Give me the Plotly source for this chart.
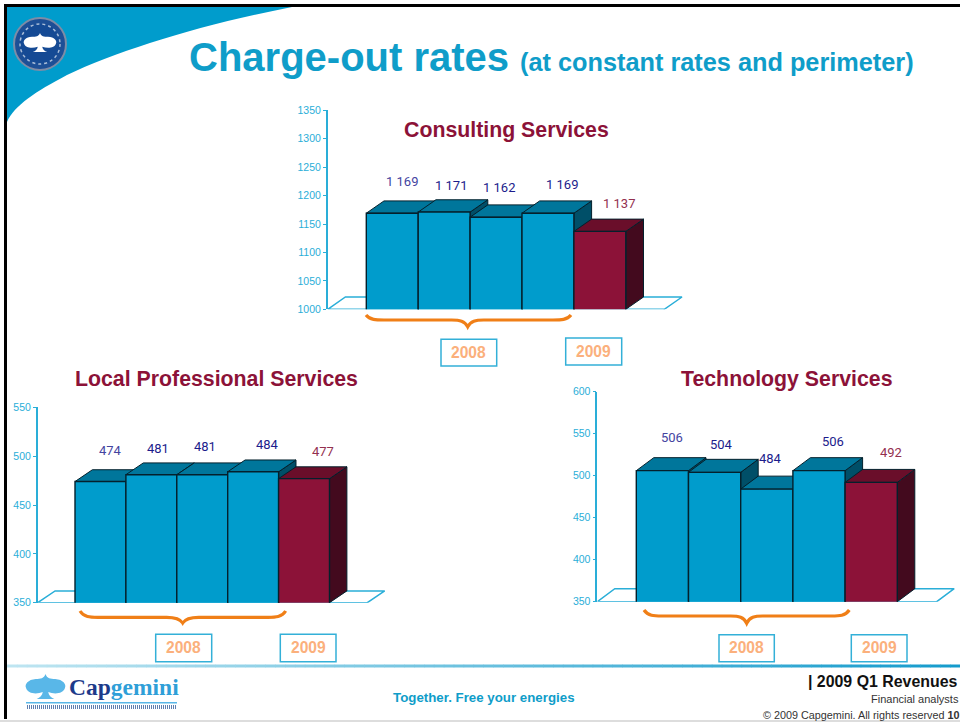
import plotly.graph_objects as go

W, H = 960, 722

# ---- data ----
quarters = ["Q1 2008", "Q2 2008", "Q3 2008", "Q4 2008", "Q1 2009"]
consulting_values = [1169, 1171, 1162, 1169, 1137]
local_values = [474, 481, 481, 484, 477]
technology_values = [506, 504, 484, 506, 492]
consulting_labels = ["1 169", "1 171", "1 162", "1 169", "1 137"]
local_labels = ["474", "481", "481", "484", "477"]
technology_labels = ["506", "504", "484", "506", "492"]
consulting_ticks = [1000, 1050, 1100, 1150, 1200, 1250, 1300, 1350]
local_ticks = [350, 400, 450, 500, 550]
technology_ticks = [350, 400, 450, 500, 550, 600]
chart_titles = ["Consulting Services", "Local Professional Services", "Technology Services"]

# ---- styles ----
BLUE_FRONT, BLUE_TOP, BLUE_SIDE = "#009ccc", "#00769b", "#004f68"
RED_FRONT, RED_TOP, RED_SIDE = "#8c1238", "#6a0e2a", "#430a1e"
EDGE = "#04202c"
AXIS = "#2aaed8"
TITLE_BLUE = "#0f9dc9"
MAROON = "#8c1238"
ORANGE = "#f07f17"
YEAR = "#fbb07c"
LABEL_COLORS = ["#44449f", "#1c1c8c", "#1c1c8c", "#1c1c8c", "#93304f"]
FONT = "Liberation Sans"
NARROW = "Roboto"


def px(x):
    return x / W


def py(y):
    return 1 - y / H


shapes, annotations, traces = [], [], []


def text(s, x, y, size, color, bold=False, anchor="center", family=FONT):
    annotations.append(dict(
        text=f"<b>{s}</b>" if bold else s, x=px(x), y=py(y), xref="paper", yref="paper",
        xanchor=anchor, yanchor="middle", showarrow=False, borderpad=0,
        font=dict(size=size, color=color, family=family)))


def path(d, fill="rgba(0,0,0,0)", color="rgba(0,0,0,0)", width=0, layer="above", dash=None):
    shapes.append(dict(type="path", path=d, xref="paper", yref="paper", fillcolor=fill, layer=layer,
                       line=dict(color=color, width=width, dash=dash)))


def P(*pts):
    """Turn pixel pairs into 'x,y' paper strings."""
    return " ".join(f"{px(a):.5f},{py(b):.5f}" for a, b in pts)


def rect(x0, y0, x1, y1, fill="rgba(0,0,0,0)", color="rgba(0,0,0,0)", width=0, kind="rect"):
    shapes.append(dict(type=kind, xref="paper", yref="paper", x0=px(x0), x1=px(x1), y0=py(y0), y1=py(y1),
                       fillcolor=fill, line=dict(color=color, width=width)))


# ---- page furniture ----
path(f"M {P((7,7))} L {P((292,7))} C {P((200,25),(120,50),(67,75))} C {P((35,92),(15,105),(7,122))} Z",
     fill="#009ccc")
rect(4, 4, 960, 7, fill="#000000")
rect(4, 4, 7, 719, fill="#000000")
rect(0, 720, 960, 722, fill="#dddddd")

# seal
rect(14, 18, 66, 70, fill="#1d4f96", color="#7d8ca6", width=2, kind="circle")
rect(20, 24, 60, 64, fill="#154a94", color="#a9bdd8", width=1.5, kind="circle")
shapes[-1]["line"]["dash"] = "dot"


def spade(cx, top, w, h, fill):
    """Cloud-like spade outline, scaled from its centre, width and height."""
    X = lambda f: cx + f * w / 2
    Y = lambda f: top + f * h
    path(f"M {P((X(0),Y(0)))} C {P((X(.08),Y(.18)),(X(.25),Y(.2)),(X(.5),Y(.2)))} "
         f"C {P((X(.9),Y(.22)),(X(1.08),Y(.42)),(X(1),Y(.55)))} C {P((X(.92),Y(.8)),(X(.45),Y(.82)),(X(.14),Y(.72)))} "
         f"C {P((X(.16),Y(.85)),(X(.28),Y(.95)),(X(.45),Y(1)))} L {P((X(-.45),Y(1)))} "
         f"C {P((X(-.28),Y(.95)),(X(-.16),Y(.85)),(X(-.14),Y(.72)))} C {P((X(-.45),Y(.82)),(X(-.92),Y(.8)),(X(-1),Y(.55)))} "
         f"C {P((X(-1.08),Y(.42)),(X(-.9),Y(.22)),(X(-.5),Y(.2)))} C {P((X(-.25),Y(.2)),(X(-.08),Y(.18)),(X(0),Y(0)))} Z",
         fill=fill)


spade(40, 33, 32, 19, "#ffffff")

# title
text("Charge-out rates", 188, 57, 40, TITLE_BLUE, bold=True, anchor="left")
text("(at constant rates and perimeter)", 519, 62, 25.3, TITLE_BLUE, bold=True, anchor="left")

# footer rule: pale on the left, saturated on the right
for k in range(96):
    f = k / 95
    c0, c1 = (190, 229, 241), (20, 155, 204)
    col = "rgb(%d,%d,%d)" % tuple(round(a + (b - a) * f) for a, b in zip(c0, c1))
    rect(7 + k * 953 / 96, 664.5, 7 + (k + 1) * 953 / 96 + 0.5, 667.5, fill=col)

# footer logo
spade(45.5, 674, 39, 25, "#59b7e8")
annotations.append(dict(
    text='<b><span style="color:#1d3a8a">Cap</span><span style="color:#2f9fd8">gemini</span></b>',
    x=px(68), y=py(687), xref="paper", yref="paper", xanchor="left", yanchor="middle", showarrow=False,
    borderpad=0, font=dict(size=23.5, family="Liberation Serif")))
rect(26, 702, 177, 703.5, fill="#59b7e8")
shapes.append(dict(type="line", xref="paper", yref="paper", x0=px(27), x1=px(177), y0=py(707), y1=py(707),
                   line=dict(color="#5f7fb0", width=4, dash="1px,1px")))

text("Together. Free your energies", 484.5, 697, 13.3, TITLE_BLUE, bold=True)
text("| 2009 Q1 Revenues", 958, 681, 15.9, "#111111", bold=True, anchor="right")
text("Financial analysts", 960, 699, 11, "#333333", anchor="right")
text("© 2009 Capgemini. All rights reserved <b>10</b>", 960, 715, 10.8, "#333333", anchor="right")

# ---- the three charts ----
charts = [
    dict(values=consulting_values, labels=consulting_labels, ticks=consulting_ticks,
         axis_x=327.7, bar_left=366.3, bar_w=51.9, right=664.3, top_px=110.3, bottom_px=309.3,
         depth=(17.7, 12.3), title_xy=(507, 130),
         label_dx=[10, 7, 3, 14, 19], label_dy=[32, 27, 30, 28.6, 28],
         brace=(366, 571, 315, 320, 326.7, 467.7), boxes=[(441, 339.3, 496.7, 366), (565.7, 338, 621.7, 365)]),
    dict(values=local_values, labels=local_labels, ticks=local_ticks,
         axis_x=37.7, bar_left=75, bar_w=50.9, right=367.3, top_px=407.3, bottom_px=602.7,
         depth=(17.4, 11.8), title_xy=(216.5, 379),
         label_dx=[10, 7, 3, 14, 18.6], label_dy=[31, 26, 28, 27, 27],
         brace=(80, 285.7, 611, 617.3, 623, 182.7), boxes=[(155.7, 634.3, 211.7, 661.7), (280.3, 634.3, 336, 661.7)]),
    dict(values=technology_values, labels=technology_labels, ticks=technology_ticks,
         axis_x=597.3, bar_left=636.3, bar_w=52.2, right=936.7, top_px=391.7, bottom_px=601.7,
         depth=(17.5, 13), title_xy=(786, 379),
         label_dx=[10, 7, 3.5, 14.3, 19.5], label_dy=[33, 28, 31, 29.4, 30],
         brace=(644, 849.3, 610, 616, 623.3, 746.7), boxes=[(719, 634.7, 774.3, 661.7), (851.3, 634.7, 907, 661.7)]),
]

layout_axes = {}
for n, c in enumerate(charts):
    vals, w = c["values"], c["bar_w"]
    ymin, ymax = c["ticks"][0], c["ticks"][-1]
    scale = (c["bottom_px"] - c["top_px"]) / (ymax - ymin)  # pixels per value unit
    dxp, dyp = c["depth"]
    dx, dy = dxp / w, dyp / scale
    dom_right = c["right"] + dxp + 1
    xr = [(c["axis_x"] - c["bar_left"]) / w, (dom_right - c["bar_left"]) / w]
    xend = (c["right"] - c["bar_left"]) / w
    x0 = xr[0]

    a = 2 * n + 1
    b = 2 * n + 2
    xa, ya = ("x", "y") if a == 1 else (f"x{a}", f"y{a}")
    xb, yb = f"x{b}", f"y{b}"
    name = lambda s, k: s + ("" if k == 1 else str(k))
    layout_axes[name("xaxis", a)] = dict(domain=[px(c["axis_x"]), px(dom_right)], range=xr, visible=False,
                                         anchor=ya, fixedrange=True, automargin=False)
    layout_axes[name("yaxis", a)] = dict(
        domain=[py(c["bottom_px"]), py(c["top_px"])], range=[ymin, ymax], anchor=xa, tickvals=c["ticks"],
        showline=True, linecolor=AXIS, linewidth=1.5, ticks="outside", ticklen=3, tickwidth=1, tickcolor=AXIS,
        tickfont=dict(size=10.5, color="#2aaed8", family=FONT), showgrid=False, zeroline=False,
        fixedrange=True, automargin=False)
    layout_axes[name("xaxis", b)] = dict(overlaying=xa, range=xr, visible=False, anchor=yb, fixedrange=True,
                                         automargin=False)
    layout_axes[name("yaxis", b)] = dict(overlaying=ya, range=[ymin, ymax], visible=False, anchor=xb,
                                         fixedrange=True, automargin=False)

    # floor
    traces.append(go.Scatter(
        x=[x0, x0 + dx, xend + dx, xend, x0, None, xend, xend],
        y=[ymin, ymin + dy, ymin + dy, ymin, ymin, None, ymin, ymin - 2.5 / scale],
        mode="lines", line=dict(color=AXIS, width=1.5), xaxis=xa, yaxis=ya, hoverinfo="skip",
        showlegend=False, cliponaxis=False))

    # depth faces, left to right, so that each top sits over the side of the previous bar
    for i, v in enumerate(vals):
        is_last = i == len(vals) - 1
        traces.append(go.Scatter(
            x=[i + 1, i + 1 + dx, i + 1 + dx, i + 1, i + 1],
            y=[ymin, ymin + dy, v + dy, v, ymin],
            fill="toself", fillcolor=RED_SIDE if is_last else BLUE_SIDE, mode="lines",
            line=dict(color=EDGE, width=1), xaxis=xa, yaxis=ya, hoverinfo="skip", showlegend=False))
        traces.append(go.Scatter(
            x=[i, i + dx, i + 1 + dx, i + 1, i],
            y=[v, v + dy, v + dy, v, v],
            fill="toself", fillcolor=RED_TOP if is_last else BLUE_TOP, mode="lines",
            line=dict(color=EDGE, width=1), xaxis=xa, yaxis=ya, hoverinfo="skip", showlegend=False))

    # front faces, on an overlaid pair of axes so they cover the depth faces
    traces.append(go.Bar(
        x=[i + 0.5 for i in range(len(vals))], y=vals, width=1, hovertext=quarters,
        marker=dict(color=[BLUE_FRONT] * 4 + [RED_FRONT], line=dict(color=EDGE, width=1.4)),
        xaxis=xb, yaxis=yb, showlegend=False, hoverinfo="text+y"))

    # value labels
    for i, (v, lab) in enumerate(zip(vals, c["labels"])):
        annotations.append(dict(
            text=lab, x=i + 0.5, y=v, xref=xb, yref=yb, xshift=c["label_dx"][i], yshift=c["label_dy"][i],
            xanchor="center", yanchor="middle", showarrow=False,
            font=dict(size=13, color=LABEL_COLORS[i], family=NARROW)))

    # heading
    text(chart_titles[n], c["title_xy"][0], c["title_xy"][1], 21.3, MAROON, bold=True)

    # brace over the 2008 quarters
    l, r, ys, yl, yt, m = c["brace"]
    path(f"M {P((l,ys))} C {P((l+4,yl),(l+10,yl),(l+18,yl))} L {P((m-16,yl))} C {P((m-8,yl),(m-3,yl+1),(m,yt))} "
         f"C {P((m+3,yl+1),(m+8,yl),(m+16,yl))} L {P((r-18,yl))} C {P((r-10,yl),(r-4,yl),(r,ys))}",
         color=ORANGE, width=3.2)

    # year boxes
    for (bx0, by0, bx1, by1), year in zip(c["boxes"], ("2008", "2009")):
        rect(bx0, by0, bx1, by1, fill="#ffffff", color="#33b0d8", width=1.5)
        text(year, (bx0 + bx1) / 2, (by0 + by1) / 2 - 0.5, 15.6, YEAR, bold=True)

fig = go.Figure(traces)
fig.update_layout(
    template="none", width=W, height=H, margin=dict(l=0, r=0, t=0, b=0, pad=0), autosize=False,
    paper_bgcolor="#ffffff", plot_bgcolor="rgba(0,0,0,0)", showlegend=False, barmode="overlay",
    shapes=shapes, annotations=annotations, **layout_axes)
fig.write_html("out.html", config=dict(displayModeBar=False),
               post_script="document.documentElement.style.margin='0';document.body.style.margin='0';"
                           "document.body.style.overflow='hidden';")
